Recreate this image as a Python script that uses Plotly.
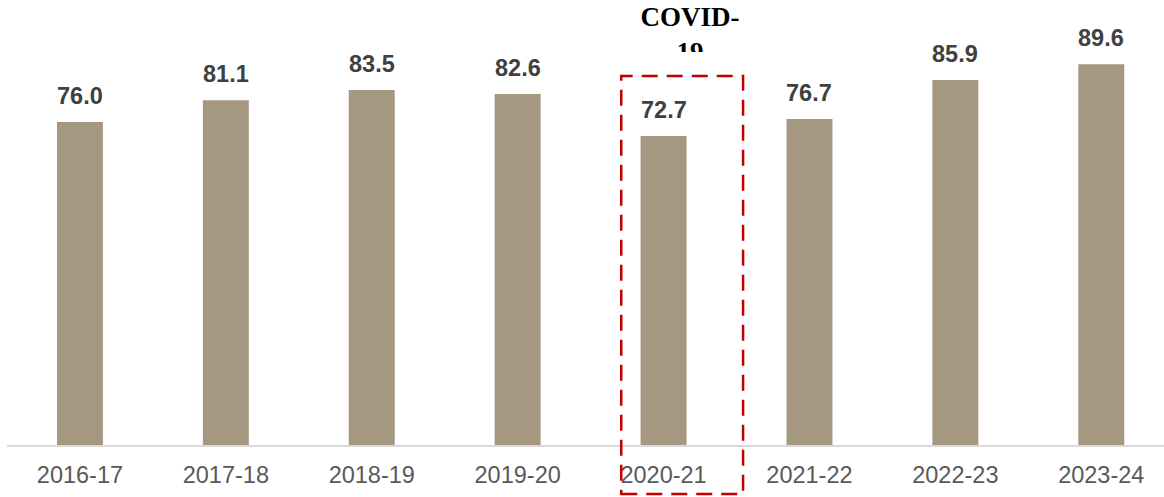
import plotly.graph_objects as go

# Yearly index values
years = ["2016-17", "2017-18", "2018-19", "2019-20", "2020-21", "2021-22", "2022-23", "2023-24"]
values = [76.0, 81.1, 83.5, 82.6, 72.7, 76.7, 85.9, 89.6]
highlight_year = "2020-21"
highlight_text = "COVID-<br>19"

W, H = 1164, 497
M_L, M_R, M_T, M_B = 7, 0, 0, 52
X_RANGE = [-0.5, 7.43]
Y_RANGE = [0, 104.7]

BAR_COLOR = "#A69781"
LABEL_COLOR = "#404040"
TICK_COLOR = "#595959"

fig = go.Figure()
fig.add_trace(go.Bar(
    x=list(range(len(years))),
    y=values,
    width=0.315,
    marker=dict(color=BAR_COLOR, line=dict(width=0)),
    hoverinfo="skip",
))

# value labels above each bar
for i, v in enumerate(values):
    fig.add_annotation(
        x=i, y=v, xref="x", yref="y",
        text=f"<b>{v:.1f}</b>", showarrow=False,
        yanchor="bottom", yshift=11,
        font=dict(family="Liberation Sans, Arial", size=23.5, color=LABEL_COLOR),
    )

# dashed frame around the highlighted year, converted to paper coordinates
hi = years.index(highlight_year)


def to_paper_x(xv):
    return (xv - X_RANGE[0]) / (X_RANGE[1] - X_RANGE[0])


def to_paper_y(yv):
    return (yv - Y_RANGE[0]) / (Y_RANGE[1] - Y_RANGE[0])


fig.add_shape(
    type="rect", xref="paper", yref="paper",
    x0=to_paper_x(hi - 0.29), x1=to_paper_x(hi + 0.545),
    y0=to_paper_y(-11.5), y1=to_paper_y(86.8),
    line=dict(color="#C00000", width=2.5, dash="16px,9px"),
    fillcolor="rgba(0,0,0,0)", layer="above",
)

fig.add_annotation(
    x=hi + 0.18, y=1, xref="x", yref="paper",
    text=f"<b>{highlight_text}</b>", showarrow=False,
    yanchor="top", valign="top", height=50, width=130,
    font=dict(family="Liberation Serif, Times New Roman", size=27, color="#000000"),
)

fig.update_layout(
    width=W, height=H,
    margin=dict(l=M_L, r=M_R, t=M_T, b=M_B),
    paper_bgcolor="white", plot_bgcolor="white",
    showlegend=False,
    xaxis=dict(
        range=X_RANGE, tickmode="array",
        tickvals=list(range(len(years))), ticktext=years,
        showgrid=False, zeroline=False,
        showline=True, linecolor="#D9D9D9", linewidth=2,
        ticks="", ticklabelstandoff=8,
        tickfont=dict(family="Liberation Sans, Arial", size=23.5, color=TICK_COLOR),
    ),
    yaxis=dict(range=Y_RANGE, visible=False, showgrid=False, zeroline=False),
)

fig.write_html("out.html")
